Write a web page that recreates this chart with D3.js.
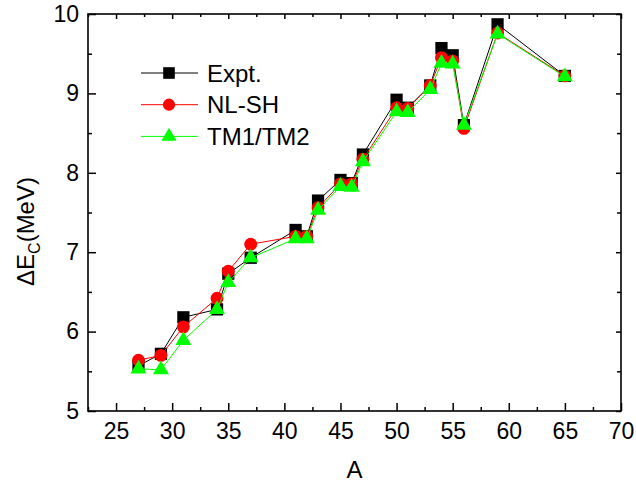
<!DOCTYPE html>
<meta charset="utf-8">
<style>
body { margin: 0; background: white; }
text { font-family: "Liberation Sans", Arial, sans-serif; }
</style>
<div id="chart"></div>
<script src="https://d3js.org/d3.v7.min.js"></script>
<script>

// mass numbers
var A = [27, 29, 31, 34, 35, 37, 41, 42, 43, 45, 46, 47, 50, 51, 53, 54, 55, 56, 59, 65];

// Coulomb displacement energies (MeV)
var expt = [5.57, 5.72, 6.18, 6.28, 6.73, 6.93, 7.28, 7.20, 7.65, 7.91, 7.87, 8.23, 8.92, 8.82, 9.10, 9.57, 9.48, 8.60, 9.87, 9.22];
var nlsh = [5.64, 5.70, 6.06, 6.42, 6.76, 7.10, 7.20, 7.20, 7.56, 7.86, 7.86, 8.17, 8.82, 8.81, 9.10, 9.45, 9.41, 8.56, 9.76, 9.22];
var tm   = [5.53, 5.52, 5.89, 6.28, 6.62, 6.93, 7.17, 7.17, 7.53, 7.83, 7.82, 8.14, 8.77, 8.76, 9.05, 9.38, 9.37, 8.60, 9.75, 9.21];

var names = ["Expt.", "NL-SH", "TM1/TM2"];
var xTicks = [25, 30, 35, 40, 45, 50, 55, 60, 65, 70];
var yTicks = [5, 6, 7, 8, 9, 10];

var W = 636, H = 482;
var margin = {top: 14, right: 15, bottom: 71, left: 88};
var width = W - margin.left - margin.right,
    height = H - margin.top - margin.bottom;

var svg = d3.select("#chart").append("svg")
    .attr("width", W)
    .attr("height", H)
  .append("g")
    .attr("transform", "translate(" + margin.left + "," + margin.top + ")");

var x = d3.scaleLinear().domain([22.5, 70]).range([0, width]);
var y = d3.scaleLinear().domain([5, 10]).range([height, 0]);

var xMinor = d3.range(22.5, 70.01, 2.5).filter(function(d){ return d % 5 != 0; });
var yMinor = d3.range(5.5, 10, 1);

function styleAxis(g) {
  g.select(".domain").remove();
  g.selectAll("line").attr("stroke", "black").attr("stroke-width", 1.5);
  g.selectAll("text").attr("font-size", 23).attr("fill", "black");
}

// bottom axis (major + minor)
svg.append("g").attr("transform", "translate(0," + height + ")")
  .call(d3.axisBottom(x).tickValues(xTicks).tickSize(-8).tickPadding(12).tickFormat(d3.format("d")))
  .call(styleAxis);
svg.append("g").attr("transform", "translate(0," + height + ")")
  .call(d3.axisBottom(x).tickValues(xMinor).tickSize(-4).tickFormat(""))
  .call(styleAxis);
// top axis
svg.append("g")
  .call(d3.axisTop(x).tickValues(xTicks).tickSize(-5).tickFormat(""))
  .call(styleAxis);
svg.append("g")
  .call(d3.axisTop(x).tickValues(xMinor).tickSize(-3).tickFormat(""))
  .call(styleAxis);

// left axis
svg.append("g")
  .call(d3.axisLeft(y).tickValues(yTicks).tickSize(-8).tickPadding(9).tickFormat(d3.format("d")))
  .call(styleAxis);
svg.append("g")
  .call(d3.axisLeft(y).tickValues(yMinor).tickSize(-4).tickFormat(""))
  .call(styleAxis);
// right axis
svg.append("g").attr("transform", "translate(" + width + ",0)")
  .call(d3.axisRight(y).tickValues(yTicks).tickSize(-5).tickFormat(""))
  .call(styleAxis);
svg.append("g").attr("transform", "translate(" + width + ",0)")
  .call(d3.axisRight(y).tickValues(yMinor).tickSize(-4).tickFormat(""))
  .call(styleAxis);

// frame
svg.append("rect")
  .attr("width", width).attr("height", height)
  .attr("fill", "none").attr("stroke", "black").attr("stroke-width", 1.6);

// series
var series = [
  {name: names[0], vals: expt, color: "black", sym: d3.symbolSquare, size: 150},
  {name: names[1], vals: nlsh, color: "red", sym: d3.symbolCircle, size: 130},
  {name: names[2], vals: tm, color: "#00ff00", sym: d3.symbolTriangle, size: 110}
];

var line = d3.line()
  .x(function(d){ return x(d[0]); })
  .y(function(d){ return y(d[1]); });

series.forEach(function(s) {
  var pts = A.map(function(a, i){ return [a, s.vals[i]]; });
  svg.append("path")
    .datum(pts)
    .attr("d", line)
    .attr("fill", "none")
    .attr("stroke", s.color)
    .attr("stroke-width", 1);
  svg.append("g").selectAll("path")
    .data(pts)
    .enter().append("path")
      .attr("d", d3.symbol().type(s.sym).size(s.size))
      .attr("transform", function(d){ return "translate(" + x(d[0]) + "," + y(d[1]) + ")"; })
      .attr("fill", s.color);
});

// legend
var legend = svg.append("g").attr("transform", "translate(53,59)");
series.forEach(function(s, i) {
  var g = legend.append("g").attr("transform", "translate(0," + (i * 31.7) + ")");
  g.append("line").attr("x1", 0).attr("x2", 57).attr("y1", 0).attr("y2", 0)
    .attr("stroke", s.color).attr("stroke-width", 1);
  g.append("path")
    .attr("d", d3.symbol().type(s.sym).size(s.size * 0.9))
    .attr("transform", "translate(28,0)")
    .attr("fill", s.color);
  g.append("text")
    .attr("x", 66).attr("y", 8.5)
    .attr("font-size", 24)
    .text(s.name);
});

// axis titles
svg.append("text")
  .attr("x", width / 2).attr("y", height + 67)
  .attr("text-anchor", "middle")
  .attr("font-size", 24)
  .text("A");

var yl = svg.append("text")
  .attr("transform", "translate(-54," + (height / 2 + 19) + ") rotate(-90)")
  .attr("text-anchor", "middle")
  .attr("font-size", 24);
yl.append("tspan").text("ΔE");
yl.append("tspan").attr("font-size", 16).attr("dy", 6).text("C");
yl.append("tspan").attr("dy", -6).text("(MeV)");

</script>
